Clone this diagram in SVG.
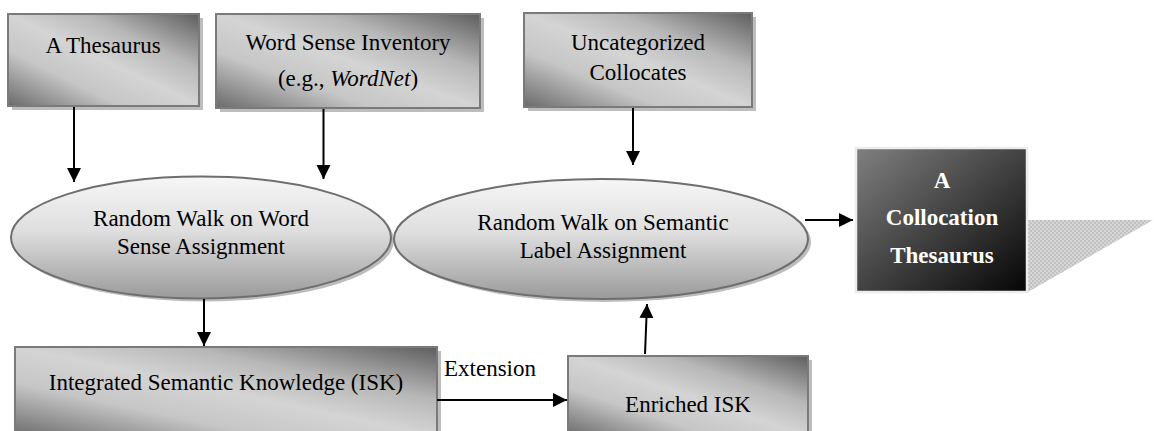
<svg xmlns="http://www.w3.org/2000/svg" width="1154" height="431" viewBox="0 0 1154 431">
<style>
  text { font-family: "Liberation Serif", Tinos, "Times New Roman", Times, "DejaVu Serif", serif; }
  .t { font-size: 23px; fill: #000; }
  .tb { font-size: 23px; font-weight: bold; fill: #fff; }
  .box { fill: url(#metal); stroke: #7a7a7a; stroke-width: 2; }
  .shadow { fill: #bdbdbd; }
  .ell { fill: url(#ellg); stroke: #6e6e6e; stroke-width: 2; }
  .conn { stroke: #000; stroke-width: 2; fill: none; marker-end: url(#ah); }
</style>
<defs>
  <linearGradient id="metal" x1="1" y1="0" x2="0" y2="1">
    <stop offset="0" stop-color="#5e5e5e"/>
    <stop offset="0.3" stop-color="#b8b8b8"/>
    <stop offset="0.5" stop-color="#d4d4d4"/>
    <stop offset="0.7" stop-color="#c6c6c6"/>
    <stop offset="1" stop-color="#6a6a6a"/>
  </linearGradient>
  <linearGradient id="ellg" x1="0" y1="0" x2="0" y2="1">
    <stop offset="0" stop-color="#f6f6f6"/>
    <stop offset="0.45" stop-color="#dedede"/>
    <stop offset="1" stop-color="#9a9a9a"/>
  </linearGradient>
  <linearGradient id="dark" x1="0" y1="0" x2="1" y2="1">
    <stop offset="0" stop-color="#808080"/>
    <stop offset="1" stop-color="#050505"/>
  </linearGradient>
  <pattern id="hatch" width="4" height="4" patternUnits="userSpaceOnUse">
    <rect width="4" height="4" fill="#d6d6d6"/>
    <rect width="2" height="2" fill="#c2c2c2"/>
    <rect x="2" y="2" width="2" height="2" fill="#c2c2c2"/>
  </pattern>
  <marker id="ah" markerUnits="userSpaceOnUse" markerWidth="15" markerHeight="15" refX="14" refY="7" orient="auto" viewBox="0 0 15 15">
    <path d="M0,0 L14,7 L0,14 z" fill="#000"/>
  </marker>
</defs>

<g id="thesaurus">
  <rect class="shadow" x="12" y="18" width="191" height="92"/>
  <rect class="box" x="8" y="14" width="191" height="92"/>
  <text class="t" x="103" y="53" text-anchor="middle" font-family="Liberation Serif, serif">A Thesaurus</text>
</g>

<g id="wordsense">
  <rect class="shadow" x="220" y="18" width="264" height="94"/>
  <rect class="box" x="216" y="14" width="264" height="94"/>
  <text class="t" x="348" y="50" text-anchor="middle">Word Sense Inventory</text>
  <text class="t" x="348" y="86" text-anchor="middle">(e.g., <tspan font-style="italic">WordNet</tspan>)</text>
</g>

<g id="uncategorized">
  <rect class="shadow" x="528" y="17" width="228" height="94"/>
  <rect class="box" x="524" y="13" width="228" height="94"/>
  <text class="t" x="638" y="50" text-anchor="middle">Uncategorized</text>
  <text class="t" x="638" y="80" text-anchor="middle">Collocates</text>
</g>

<g id="rw-word">
  <ellipse class="shadow" cx="204" cy="240.5" rx="190" ry="61"/>
  <ellipse class="ell" cx="201" cy="237.5" rx="190" ry="61"/>
  <text class="t" x="201" y="226" text-anchor="middle">Random Walk on Word</text>
  <text class="t" x="201" y="254" text-anchor="middle">Sense Assignment</text>
</g>

<g id="rw-semantic">
  <ellipse class="shadow" cx="604" cy="242" rx="207" ry="60"/>
  <ellipse class="ell" cx="601" cy="239" rx="207" ry="60"/>
  <text class="t" x="603" y="230" text-anchor="middle">Random Walk on Semantic</text>
  <text class="t" x="603" y="258" text-anchor="middle">Label Assignment</text>
</g>

<g id="collocation-thesaurus">
  <polygon points="1028,220 1153,220 1028,292" fill="url(#hatch)"/>
  <rect x="856" y="148" width="171" height="144" fill="url(#dark)" stroke="#ececec" stroke-width="2.5"/>
  <text class="tb" x="942" y="188" text-anchor="middle">A</text>
  <text class="tb" x="942" y="225" text-anchor="middle">Collocation</text>
  <text class="tb" x="942" y="263" text-anchor="middle">Thesaurus</text>
</g>

<g id="isk">
  <rect class="shadow" x="19" y="351" width="422" height="90"/>
  <rect class="box" x="15" y="347" width="422" height="90"/>
  <text class="t" x="226" y="390" text-anchor="middle">Integrated Semantic Knowledge (ISK)</text>
</g>

<g id="enriched-isk">
  <rect class="shadow" x="572" y="360" width="240" height="80"/>
  <rect class="box" x="568" y="356" width="240" height="80"/>
  <text class="t" x="688" y="412" text-anchor="middle">Enriched ISK</text>
</g>

<g id="connectors">
  <line class="conn" x1="74" y1="107" x2="74" y2="182"/>
  <line class="conn" x1="323.5" y1="109" x2="323.5" y2="179"/>
  <line class="conn" x1="633" y1="108" x2="633" y2="165"/>
  <line class="conn" x1="805" y1="220" x2="853" y2="220"/>
  <line class="conn" x1="204" y1="299" x2="204" y2="346"/>
  <line class="conn" x1="437" y1="400" x2="567" y2="400"/>
  <line class="conn" x1="645" y1="354" x2="647" y2="304"/>
  <text class="t" x="444" y="376">Extension</text>
</g>
</svg>
